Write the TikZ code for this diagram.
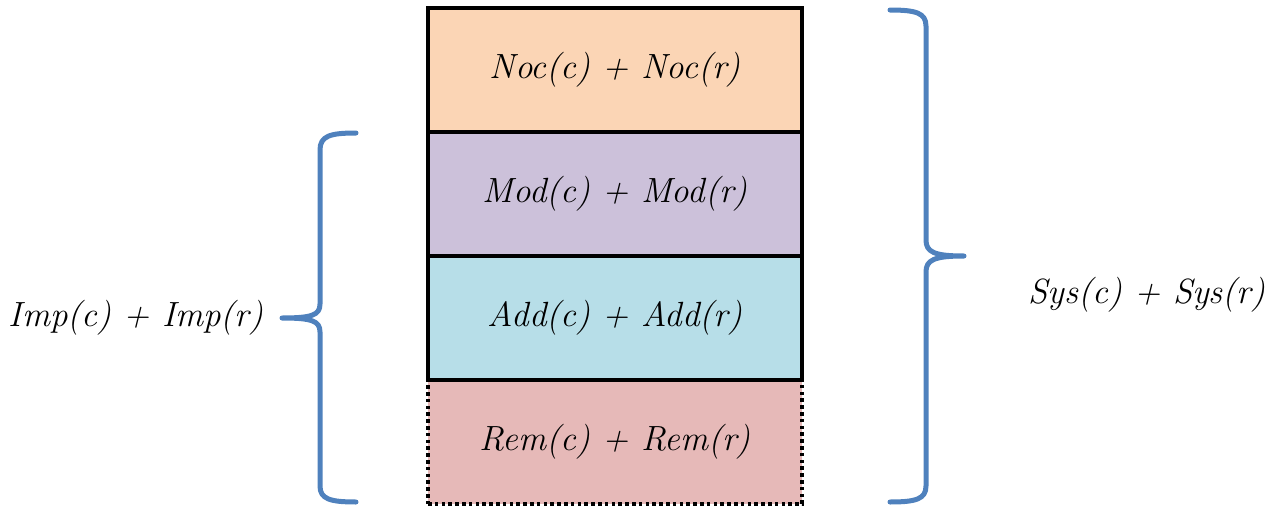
\documentclass[tikz,border=0pt]{standalone}
\usepackage{tikz}

\definecolor{nocfill}{HTML}{FBD5B5}
\definecolor{modfill}{HTML}{CCC1DA}
\definecolor{addfill}{HTML}{B7DEE8}
\definecolor{remfill}{HTML}{E6B9B8}
\definecolor{bracecol}{HTML}{4F81BD}

\begin{document}
\begin{tikzpicture}[x=0.5pt,y=-0.5pt,
  layer/.style = {draw,line width=2pt,minimum width=187pt,minimum height=62pt,
                  inner sep=0pt,outer sep=0pt,font=\fontsize{17.5}{21}\selectfont\itshape},
  side/.style = {font=\fontsize{17.5}{21}\selectfont\itshape},
  brace/.style = {draw=bracecol,line width=2.5pt,line cap=round,line join=round}]
\useasboundingbox (0,0) rectangle (1287,509);

\node[layer,fill=remfill,line width=1.8pt,dash pattern=on 1.8pt off 1.6pt] (rem) at (615,442) {Rem(c) + Rem(r)};
\node[layer,fill=addfill] (add) at (615,318) {Add(c) + Add(r)};
\node[layer,fill=modfill] (mod) at (615,194) {Mod(c) + Mod(r)};
\node[layer,fill=nocfill] (noc) at (615,70)  {Noc(c) + Noc(r)};

\node[side] (imp) at (136,318) {Imp(c) + Imp(r)};
\node[side] (sys) at (1147,295) {Sys(c) + Sys(r)};

% left brace
\draw[brace] (356,133) .. controls (330,133) and (320,136) .. (320,150) -- (320,304)
  .. controls (320,315) and (312,318) .. (282,318)
  .. controls (312,318) and (320,321) .. (320,332) -- (320,486)
  .. controls (320,499) and (330,502) .. (356,502);
% right brace
\draw[brace] (890,10) .. controls (916,10) and (926,13) .. (926,26) -- (926,240)
  .. controls (926,252) and (934,256) .. (964,256)
  .. controls (934,256) and (926,260) .. (926,272) -- (926,486)
  .. controls (926,499) and (916,502) .. (890,502);
\end{tikzpicture}
\end{document}
